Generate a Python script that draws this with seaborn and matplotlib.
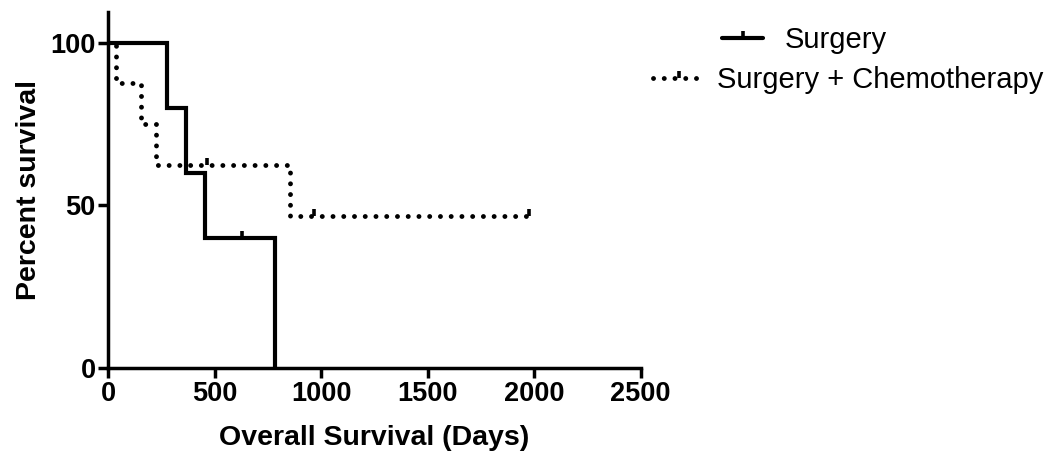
import matplotlib
matplotlib.use('Agg')
import matplotlib.pyplot as plt
import seaborn as sns
import pandas as pd
from matplotlib.lines import Line2D

# -------------------------------------------------------
# Kaplan-Meier steps (days, percent survival)
# -------------------------------------------------------
surg_days = [0, 277, 366, 456, 785]
surg_surv = [100, 80, 60, 40, 0]
surg_cens_days = [630]
surg_cens_surv = [40]

chemo_days = [0, 38, 155, 225, 855, 1975]
chemo_surv = [100, 87.5, 75, 62.5, 46.875, 46.875]
chemo_cens_days = [465, 968, 1975]
chemo_cens_surv = [62.5, 46.875, 46.875]

x_ticks = [0, 500, 1000, 1500, 2000, 2500]
y_ticks = [0, 50, 100]

sns.set_style('ticks', {'axes.edgecolor': 'black', 'xtick.color': 'black',
                        'ytick.color': 'black', 'text.color': 'black',
                        'axes.labelcolor': 'black'})
plt.rcParams['font.family'] = ['Liberation Sans', 'DejaVu Sans']

fig = plt.figure(figsize=(10.5, 4.59), dpi=100)
ax = fig.add_axes([0.103, 0.198, 0.507, 0.776])

lw = 3.0
dot_lw = 3.5
dots = (0, (0.01, 2.2))
tick_mark = [(0, 0), (0, 1)]

df_s = pd.DataFrame({'days': surg_days, 'surv': surg_surv})
df_c = pd.DataFrame({'days': chemo_days, 'surv': chemo_surv})

sns.lineplot(data=df_s, x='days', y='surv', ax=ax, color='black', lw=lw,
             drawstyle='steps-post', estimator=None, solid_joinstyle='miter')
sns.lineplot(data=df_c, x='days', y='surv', ax=ax, color='black', lw=dot_lw,
             drawstyle='steps-post', estimator=None,
             linestyle=dots, dash_capstyle='round')

# censored marks
ax.plot(surg_cens_days, surg_cens_surv, linestyle='none', marker=tick_mark,
        markersize=10, markeredgewidth=2.6, color='black')
ax.plot(chemo_cens_days, chemo_cens_surv, linestyle='none', marker=tick_mark,
        markersize=10, markeredgewidth=2.6, color='black')

ax.set_xlim(0, 2500)
ax.set_ylim(0, 109.5)
ax.set_xticks(x_ticks)
ax.set_yticks(y_ticks)
ax.tick_params(width=2.5, length=7, labelsize=19.5, pad=2)
for lab in ax.get_xticklabels() + ax.get_yticklabels():
    lab.set_fontweight('bold')

for side in ['top', 'right']:
    ax.spines[side].set_visible(False)
for side in ['left', 'bottom']:
    ax.spines[side].set_linewidth(2.5)

ax.set_xlabel('Overall Survival (Days)', fontsize=20.5, fontweight='bold', labelpad=13)
ax.set_ylabel('Percent survival', fontsize=20.5, fontweight='bold', labelpad=6)

# legend entries (Prism style, each entry on its own)
h1 = Line2D([0], [0], color='black', lw=lw, marker=tick_mark,
            markersize=10, markeredgewidth=2.6)
h2 = Line2D([0], [0], color='black', lw=dot_lw, linestyle=dots,
            dash_capstyle='round', marker=tick_mark, markersize=10,
            markeredgewidth=2.6)
leg1 = fig.legend([h1], ['Surgery'], loc='center left',
                  bbox_to_anchor=(0.688, 0.912), frameon=False,
                  fontsize=21, handlelength=1.4, handletextpad=0.72,
                  borderpad=0, borderaxespad=0)
leg2 = fig.legend([h2], ['Surgery + Chemotherapy'], loc='center left',
                  bbox_to_anchor=(0.622, 0.826), frameon=False,
                  fontsize=21, handlelength=1.78, handletextpad=0.41,
                  borderpad=0, borderaxespad=0)

plt.savefig('out.png', dpi=100)
plt.close()
